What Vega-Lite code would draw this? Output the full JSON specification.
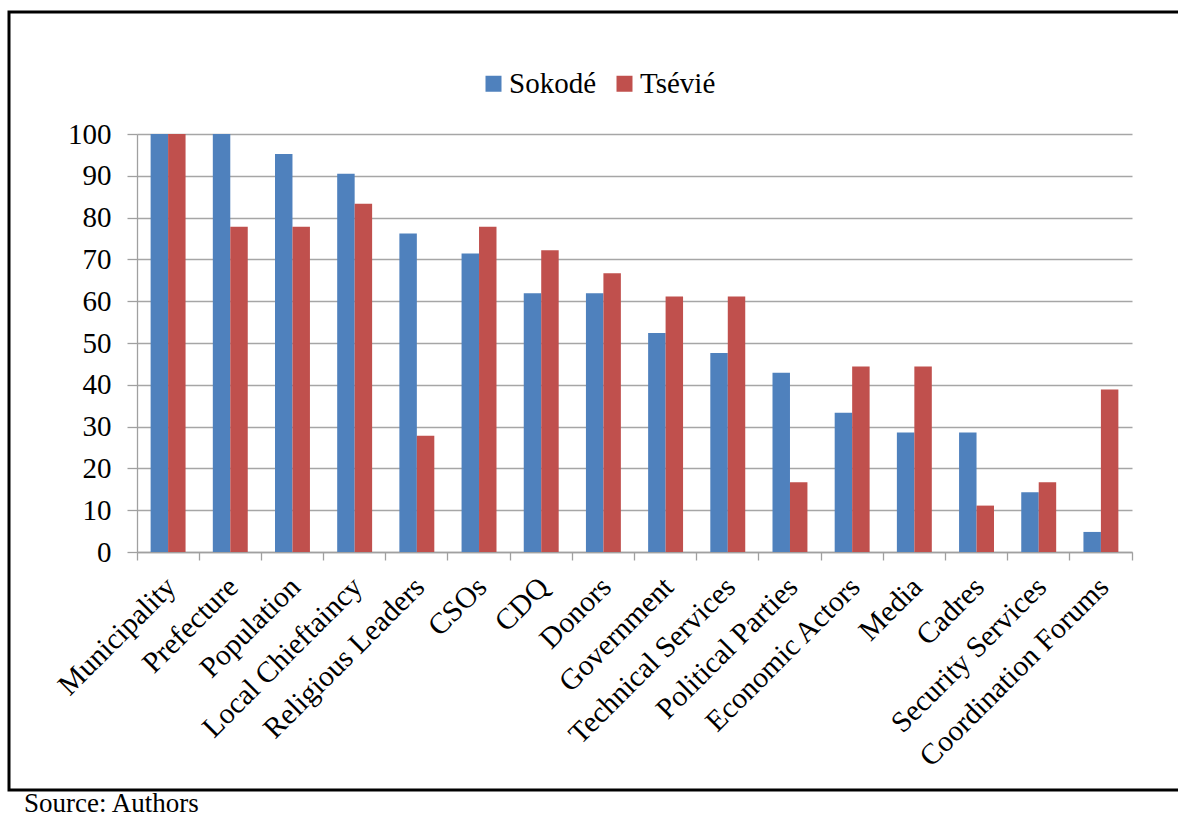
{
  "$schema": "https://vega.github.io/schema/vega-lite/v6.json",
  "width": 1185,
  "height": 778,
  "autosize": {"type": "none"},
  "padding": {"left": 9, "top": 12, "right": 0, "bottom": 35},
  "title": {
    "text": "Source: Authors",
    "orient": "bottom",
    "anchor": "start",
    "frame": "group",
    "font": "Liberation Serif",
    "fontSize": 27,
    "fontWeight": "normal",
    "color": "black",
    "dx": 15,
    "offset": 1
  },
  "data": {
    "values": [
      {"actor": "Municipality", "city": "Sokodé", "pct": 100},
      {"actor": "Municipality", "city": "Tsévié", "pct": 100},
      {"actor": "Prefecture", "city": "Sokodé", "pct": 100},
      {"actor": "Prefecture", "city": "Tsévié", "pct": 77.8},
      {"actor": "Population", "city": "Sokodé", "pct": 95.2},
      {"actor": "Population", "city": "Tsévié", "pct": 77.8},
      {"actor": "Local Chieftaincy", "city": "Sokodé", "pct": 90.5},
      {"actor": "Local Chieftaincy", "city": "Tsévié", "pct": 83.3},
      {"actor": "Religious Leaders", "city": "Sokodé", "pct": 76.2},
      {"actor": "Religious Leaders", "city": "Tsévié", "pct": 27.8},
      {"actor": "CSOs", "city": "Sokodé", "pct": 71.4},
      {"actor": "CSOs", "city": "Tsévié", "pct": 77.8},
      {"actor": "CDQ", "city": "Sokodé", "pct": 61.9},
      {"actor": "CDQ", "city": "Tsévié", "pct": 72.2},
      {"actor": "Donors", "city": "Sokodé", "pct": 61.9},
      {"actor": "Donors", "city": "Tsévié", "pct": 66.7},
      {"actor": "Government", "city": "Sokodé", "pct": 52.4},
      {"actor": "Government", "city": "Tsévié", "pct": 61.1},
      {"actor": "Technical Services", "city": "Sokodé", "pct": 47.6},
      {"actor": "Technical Services", "city": "Tsévié", "pct": 61.1},
      {"actor": "Political Parties", "city": "Sokodé", "pct": 42.9},
      {"actor": "Political Parties", "city": "Tsévié", "pct": 16.7},
      {"actor": "Economic Actors", "city": "Sokodé", "pct": 33.3},
      {"actor": "Economic Actors", "city": "Tsévié", "pct": 44.4},
      {"actor": "Media", "city": "Sokodé", "pct": 28.6},
      {"actor": "Media", "city": "Tsévié", "pct": 44.4},
      {"actor": "Cadres", "city": "Sokodé", "pct": 28.6},
      {"actor": "Cadres", "city": "Tsévié", "pct": 11.1},
      {"actor": "Security Services", "city": "Sokodé", "pct": 14.3},
      {"actor": "Security Services", "city": "Tsévié", "pct": 16.7},
      {"actor": "Coordination Forums", "city": "Sokodé", "pct": 4.8},
      {"actor": "Coordination Forums", "city": "Tsévié", "pct": 38.9}
    ]
  },
  "mark": {"type": "bar"},
  "encoding": {
    "x": {
      "field": "actor",
      "type": "nominal",
      "sort": null,
      "title": null,
      "scale": {"range": [128, 1123], "paddingInner": 0, "paddingOuter": 0},
      "axis": {
        "orient": "bottom",
        "offset": -238,
        "bandPosition": 1,
        "tickExtra": true,
        "labelOffset": 3,
        "labelAngle": -45,
        "labelAlign": "right",
        "labelBaseline": "middle",
        "labelPadding": 22,
        "labelFont": "Liberation Serif",
        "labelFontSize": 29.5,
        "labelColor": "black",
        "labelOverlap": false,
        "labelLimit": 0,
        "domainColor": "#a0a0a0",
        "domainWidth": 1.3,
        "tickColor": "#a0a0a0",
        "tickWidth": 1.3,
        "tickSize": 8,
        "grid": false
      }
    },
    "xOffset": {
      "field": "city",
      "type": "nominal",
      "scale": {"paddingInner": 0, "paddingOuter": 0.78}
    },
    "y": {
      "field": "pct",
      "type": "quantitative",
      "title": null,
      "scale": {"domain": [0, 100], "range": [540, 122], "nice": false},
      "axis": {
        "orient": "left",
        "offset": -128,
        "values": [0, 10, 20, 30, 40, 50, 60, 70, 80, 90, 100],
        "labelFont": "Liberation Serif",
        "labelFontSize": 29,
        "labelColor": "black",
        "labelPadding": 16,
        "domainColor": "#a0a0a0",
        "domainWidth": 1.3,
        "tickColor": "#a0a0a0",
        "tickWidth": 1.3,
        "tickSize": 10,
        "grid": true,
        "gridColor": "#a6a6a6",
        "gridWidth": 1.3
      }
    },
    "color": {
      "field": "city",
      "type": "nominal",
      "scale": {"domain": ["Sokodé", "Tsévié"], "range": ["#4f81bd", "#c0504d"]},
      "legend": {
        "title": null,
        "orient": "none",
        "direction": "horizontal",
        "legendX": 470,
        "legendY": 57,
        "symbolType": "square",
        "symbolSize": 256,
        "symbolStrokeWidth": 0,
        "labelFont": "Liberation Serif",
        "labelFontSize": 29,
        "labelColor": "black",
        "labelOffset": 1,
        "columnPadding": 14,
        "padding": 0
      }
    }
  },
  "config": {
    "view": {"stroke": "black", "strokeWidth": 3},
    "background": "white"
  }
}
